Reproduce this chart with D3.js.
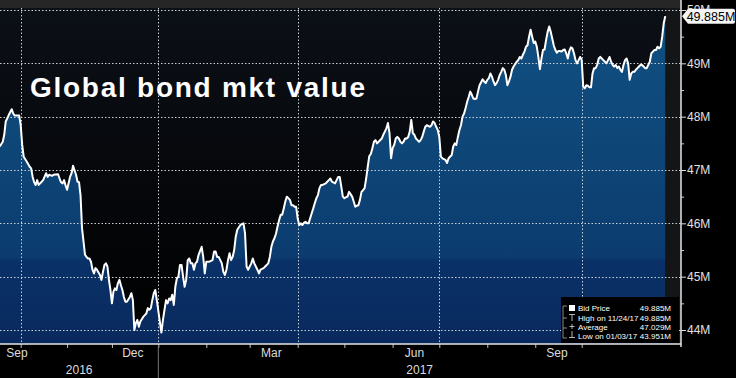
<!DOCTYPE html>
<html>
<head>
<meta charset="utf-8">
<script src="https://d3js.org/d3.v7.min.js"></script>
<style>
body { margin: 0; background: #000; }
svg { display: block; font-family: "Liberation Sans", Arial, sans-serif; }
</style>
</head>
<body>
<script>
// values, in millions
var sep2016 = [
  ["2016-09-17",47.44],["2016-09-19",47.53],["2016-09-20",47.66],["2016-09-21",47.91],["2016-09-23",48.03],
  ["2016-09-25",48.14],["2016-09-26",48.06],["2016-09-27",48.02],["2016-09-30",48.02]
];
var q4_2016 = [
  ["2016-10-01",47.84],["2016-10-02",47.47],["2016-10-03",47.25],["2016-10-05",47.16],["2016-10-07",47.06],
  ["2016-10-08",47.03],["2016-10-09",46.87],["2016-10-10",46.77],["2016-10-11",46.72],["2016-10-12",46.81],
  ["2016-10-13",46.72],["2016-10-15",46.78],["2016-10-16",46.81],["2016-10-18",46.94],["2016-10-19",46.87],
  ["2016-10-20",46.91],["2016-10-22",46.89],["2016-10-23",46.91],["2016-10-26",46.92],["2016-10-27",46.84],
  ["2016-10-28",46.77],["2016-10-29",46.75],["2016-10-30",46.81],["2016-10-31",46.71],["2016-11-01",46.63],
  ["2016-11-03",46.87],["2016-11-04",46.94],["2016-11-05",47.08],["2016-11-07",46.91],["2016-11-08",46.78],
  ["2016-11-09",46.77],["2016-11-10",46.53],["2016-11-11",45.91],["2016-11-13",45.41],["2016-11-14",45.37],
  ["2016-11-15",45.34],["2016-11-16",45.34],["2016-11-17",45.28],["2016-11-18",45.13],["2016-11-19",45.06],
  ["2016-11-20",45.16],["2016-11-21",45.13],["2016-11-23",45.03],["2016-11-24",44.94],["2016-11-25",45.09],
  ["2016-11-26",45.22],["2016-11-27",45.25],["2016-11-28",45.19],["2016-11-29",44.94],["2016-11-30",44.75],
  ["2016-12-01",44.50],["2016-12-02",44.72],["2016-12-03",44.78],["2016-12-04",44.75],["2016-12-05",44.88],
  ["2016-12-06",44.94],["2016-12-07",44.84],["2016-12-08",44.75],["2016-12-09",44.62],["2016-12-10",44.53],
  ["2016-12-11",44.53],["2016-12-13",44.62],["2016-12-14",44.69],["2016-12-15",44.56],["2016-12-16",44.00],
  ["2016-12-17",44.13],["2016-12-18",44.19],["2016-12-19",44.06],["2016-12-20",44.16],["2016-12-22",44.25],
  ["2016-12-23",44.28],["2016-12-24",44.31],["2016-12-25",44.41],["2016-12-26",44.38],["2016-12-27",44.41],
  ["2016-12-28",44.56],["2016-12-29",44.69],["2016-12-30",44.75],["2016-12-31",44.56]
];
var q1_2017 = [
  ["2017-01-03",43.951],["2017-01-04",44.19],["2017-01-05",44.38],["2017-01-06",44.56],["2017-01-07",44.50],
  ["2017-01-08",44.59],["2017-01-09",44.56],["2017-01-10",44.66],["2017-01-11",44.47],["2017-01-12",44.81],
  ["2017-01-13",44.97],["2017-01-14",45.00],["2017-01-15",45.22],["2017-01-16",45.22],["2017-01-17",45.00],
  ["2017-01-18",44.81],["2017-01-19",44.94],["2017-01-20",45.31],["2017-01-21",45.34],["2017-01-22",45.25],
  ["2017-01-23",45.25],["2017-01-24",45.13],["2017-01-25",45.25],["2017-01-26",45.28],["2017-01-27",45.41],
  ["2017-01-29",45.56],["2017-01-30",45.37],["2017-01-31",45.06],["2017-02-01",45.28],["2017-02-02",45.28],
  ["2017-02-03",45.28],["2017-02-05",45.31],["2017-02-06",45.47],["2017-02-07",45.47],["2017-02-08",45.37],
  ["2017-02-09",45.37],["2017-02-10",45.31],["2017-02-11",45.25],["2017-02-12",45.09],["2017-02-13",45.03],
  ["2017-02-14",45.13],["2017-02-15",45.31],["2017-02-16",45.44],["2017-02-17",45.31],["2017-02-18",45.37],
  ["2017-02-19",45.50],["2017-02-20",45.75],["2017-02-21",45.88],["2017-02-23",45.97],["2017-02-25",46.00],
  ["2017-02-26",45.81],["2017-02-27",45.19],["2017-02-28",45.13],["2017-03-02",45.25],["2017-03-03",45.34],
  ["2017-03-04",45.25],["2017-03-06",45.13],["2017-03-07",45.06],["2017-03-08",45.13],["2017-03-10",45.16],
  ["2017-03-11",45.19],["2017-03-13",45.25],["2017-03-14",45.37],["2017-03-15",45.56],["2017-03-16",45.66],
  ["2017-03-17",45.72],["2017-03-18",45.81],["2017-03-19",45.94],["2017-03-20",46.06],["2017-03-21",46.16],
  ["2017-03-22",46.16],["2017-03-23",46.28],["2017-03-24",46.41],["2017-03-25",46.50],["2017-03-27",46.44],
  ["2017-03-28",46.34],["2017-03-29",46.34],["2017-03-30",46.31],["2017-03-31",46.31]
];
var q2_2017 = [
  ["2017-04-01",46.09],["2017-04-02",45.97],["2017-04-03",46.00],["2017-04-04",45.97],["2017-04-05",46.01],
  ["2017-04-06",46.03],["2017-04-07",46.00],["2017-04-08",46.00],["2017-04-10",46.19],["2017-04-11",46.28],
  ["2017-04-12",46.38],["2017-04-13",46.47],["2017-04-14",46.53],["2017-04-15",46.66],["2017-04-16",46.72],
  ["2017-04-17",46.72],["2017-04-19",46.75],["2017-04-20",46.78],["2017-04-21",46.81],["2017-04-22",46.84],
  ["2017-04-23",46.78],["2017-04-25",46.75],["2017-04-26",46.81],["2017-04-27",46.87],["2017-04-28",46.87],
  ["2017-04-29",46.69],["2017-04-30",46.50],["2017-05-01",46.47],["2017-05-02",46.49],["2017-05-03",46.50],
  ["2017-05-04",46.59],["2017-05-06",46.50],["2017-05-07",46.41],["2017-05-08",46.31],["2017-05-09",46.33],
  ["2017-05-10",46.34],["2017-05-11",46.44],["2017-05-12",46.59],["2017-05-13",46.62],["2017-05-14",46.66],
  ["2017-05-15",46.84],["2017-05-16",47.06],["2017-05-17",47.26],["2017-05-18",47.30],["2017-05-19",47.41],
  ["2017-05-20",47.53],["2017-05-21",47.56],["2017-05-22",47.50],["2017-05-23",47.53],["2017-05-25",47.59],
  ["2017-05-26",47.66],["2017-05-27",47.72],["2017-05-28",47.78],["2017-05-29",47.88],["2017-05-30",47.69],
  ["2017-05-31",47.22],["2017-06-01",47.41],["2017-06-02",47.47],["2017-06-03",47.59],["2017-06-04",47.62],
  ["2017-06-05",47.59],["2017-06-06",47.53],["2017-06-07",47.50],["2017-06-08",47.53],["2017-06-09",47.59],
  ["2017-06-10",47.59],["2017-06-11",47.62],["2017-06-12",47.72],["2017-06-13",47.94],["2017-06-14",47.69],
  ["2017-06-15",47.66],["2017-06-16",47.59],["2017-06-17",47.56],["2017-06-18",47.53],["2017-06-19",47.56],
  ["2017-06-20",47.62],["2017-06-21",47.72],["2017-06-22",47.81],["2017-06-23",47.84],["2017-06-25",47.81],
  ["2017-06-26",47.84],["2017-06-27",47.91],["2017-06-28",47.88],["2017-06-29",47.81],["2017-06-30",47.75]
];
var q3_2017 = [
  ["2017-07-01",47.62],["2017-07-02",47.25],["2017-07-03",47.22],["2017-07-05",47.19],["2017-07-06",47.13],
  ["2017-07-07",47.22],["2017-07-09",47.28],["2017-07-10",47.44],["2017-07-11",47.50],["2017-07-12",47.47],
  ["2017-07-13",47.62],["2017-07-14",47.75],["2017-07-15",47.84],["2017-07-16",48.00],["2017-07-17",48.06],
  ["2017-07-18",48.16],["2017-07-19",48.28],["2017-07-20",48.37],["2017-07-21",48.47],["2017-07-22",48.41],
  ["2017-07-23",48.34],["2017-07-24",48.33],["2017-07-25",48.34],["2017-07-26",48.47],["2017-07-27",48.59],
  ["2017-07-29",48.70],["2017-07-30",48.66],["2017-07-31",48.63],["2017-08-01",48.69],["2017-08-02",48.72],
  ["2017-08-03",48.81],["2017-08-04",48.75],["2017-08-05",48.66],["2017-08-06",48.59],["2017-08-07",48.63],
  ["2017-08-08",48.69],["2017-08-09",48.78],["2017-08-10",48.84],["2017-08-11",48.91],["2017-08-12",48.88],
  ["2017-08-13",48.78],["2017-08-14",48.59],["2017-08-15",48.66],["2017-08-16",48.75],["2017-08-17",48.88],
  ["2017-08-18",48.94],["2017-08-20",49.03],["2017-08-21",49.06],["2017-08-22",49.12],["2017-08-23",49.09],
  ["2017-08-24",49.16],["2017-08-25",49.22],["2017-08-26",49.31],["2017-08-27",49.34],["2017-08-28",49.50],
  ["2017-08-29",49.63],["2017-08-30",49.50],["2017-08-31",49.38],["2017-09-01",49.41],["2017-09-02",49.31],
  ["2017-09-03",49.12],["2017-09-04",48.89],["2017-09-05",49.09],["2017-09-06",49.25],["2017-09-07",49.26],
  ["2017-09-08",49.44],["2017-09-09",49.59],["2017-09-10",49.69],["2017-09-11",49.59],["2017-09-12",49.46],
  ["2017-09-13",49.33],["2017-09-14",49.25],["2017-09-15",49.20],["2017-09-16",49.23],["2017-09-17",49.23],
  ["2017-09-18",49.22],["2017-09-19",49.25],["2017-09-20",49.26],["2017-09-21",49.19],["2017-09-22",49.09],
  ["2017-09-23",49.23],["2017-09-24",49.30],["2017-09-25",49.28],["2017-09-26",49.19],["2017-09-27",49.06],
  ["2017-09-28",49.00],["2017-09-29",49.06],["2017-09-30",49.12]
];
var q4_2017 = [
  ["2017-10-01",49.06],["2017-10-02",48.56],["2017-10-03",48.53],["2017-10-04",48.59],["2017-10-05",48.58],
  ["2017-10-06",48.55],["2017-10-07",48.55],["2017-10-08",48.81],["2017-10-09",48.91],["2017-10-10",48.91],
  ["2017-10-11",48.97],["2017-10-12",49.09],["2017-10-13",49.12],["2017-10-15",49.06],["2017-10-16",49.03],
  ["2017-10-17",49.00],["2017-10-18",49.06],["2017-10-19",49.12],["2017-10-20",49.03],["2017-10-21",48.97],
  ["2017-10-22",48.94],["2017-10-23",48.97],["2017-10-24",48.91],["2017-10-25",48.94],["2017-10-26",48.88],
  ["2017-10-27",48.84],["2017-10-28",48.97],["2017-10-29",49.06],["2017-10-30",49.09],["2017-10-31",49.00],
  ["2017-11-01",48.69],["2017-11-02",48.81],["2017-11-03",48.84],["2017-11-04",48.84],["2017-11-05",48.88],
  ["2017-11-06",48.91],["2017-11-07",48.94],["2017-11-08",48.97],["2017-11-09",48.97],["2017-11-10",48.94],
  ["2017-11-11",48.91],["2017-11-12",48.91],["2017-11-14",49.03],["2017-11-15",49.19],["2017-11-16",49.22],
  ["2017-11-17",49.25],["2017-11-18",49.25],["2017-11-19",49.31],["2017-11-20",49.28],["2017-11-21",49.31],
  ["2017-11-22",49.50],["2017-11-23",49.75],["2017-11-24",49.885]
];

var yTicks = [44, 45, 46, 47, 48, 49, 50];
var monthLabels = ["Sep", "Dec", "Mar", "Jun", "Sep"];
var monthMids = ["2016-09-15", "2016-12-15", "2017-03-15", "2017-06-15", "2017-09-15"];
var yearLabels = ["2016", "2017"];
var quarterStarts = ["2016-10-01", "2017-01-01", "2017-04-01", "2017-07-01", "2017-10-01"];
var legendLabels = ["Bid Price", "High on 11/24/17", "Average", "Low on 01/03/17"];
var legendValues = ["49.885M", "49.885M", "47.029M", "43.951M"];
var title = "Global bond mkt value";

var width = 736, height = 378,
    plotRight = 681, plotBottom = 344;

var parse = d3.timeParse("%Y-%m-%d");
var data = [].concat(sep2016, q4_2016, q1_2017, q2_2017, q3_2017, q4_2017).map(function(d) {
  return {date: parse(d[0]), value: d[1]};
});
var quarters = quarterStarts.map(parse);

// bloomberg spaces quarters slightly unevenly, so map each quarter boundary
var x = d3.scaleTime()
  .domain(quarters)
  .range([20.7, 158.3, 297.7, 439.3, 581.7]);
var y = d3.scaleLinear().domain([44, 50]).range([330, 10]);

var svg = d3.select("body").append("svg")
  .attr("width", width)
  .attr("height", height);

var defs = svg.append("defs");
var bg = defs.append("linearGradient").attr("id", "bg")
  .attr("x1", 0).attr("y1", 0).attr("x2", 0).attr("y2", 1);
bg.append("stop").attr("offset", 0).attr("stop-color", "#0c1017");
bg.append("stop").attr("offset", 1).attr("stop-color", "#000");

var fill = defs.append("linearGradient").attr("id", "areaFill")
  .attr("gradientUnits", "userSpaceOnUse")
  .attr("x1", 0).attr("y1", 0).attr("x2", 0).attr("y2", plotBottom);
[[0, "#115183"], [0.45, "#0e4577"], [0.75, "#0c3c6f"], [0.755, "#0a3268"], [1, "#09295e"]].forEach(function(s) {
  fill.append("stop").attr("offset", s[0]).attr("stop-color", s[1]);
});

defs.append("clipPath").attr("id", "plotClip")
  .append("rect").attr("width", plotRight).attr("height", plotBottom);

svg.append("rect")
  .attr("width", plotRight).attr("height", plotBottom)
  .attr("fill", "url(#bg)");

svg.append("rect")
  .attr("width", plotRight).attr("height", 8)
  .attr("fill", "#262626");

var last = data[data.length - 1];
svg.append("rect")
  .attr("x", x(last.date)).attr("y", 8)
  .attr("width", plotRight - x(last.date)).attr("height", plotBottom - 8)
  .attr("fill", "#141517");

var plot = svg.append("g").attr("clip-path", "url(#plotClip)");

var area = d3.area()
  .x(function(d) { return x(d.date); })
  .y0(plotBottom)
  .y1(function(d) { return y(d.value); });

var line = d3.line()
  .x(function(d) { return x(d.date); })
  .y(function(d) { return y(d.value); });

plot.append("path")
  .datum(data)
  .attr("d", area)
  .attr("fill", "url(#areaFill)");

// dotted grid
plot.selectAll(".hgrid")
  .data(yTicks)
  .enter().append("line")
  .attr("class", "hgrid")
  .attr("x1", 0).attr("x2", plotRight)
  .attr("y1", function(d) { return Math.round(y(d)) + 0.5; })
  .attr("y2", function(d) { return Math.round(y(d)) + 0.5; })
  .attr("stroke", "#c8d0d8").attr("stroke-width", 1)
  .attr("stroke-dasharray", "1.5,2");

plot.selectAll(".vgrid")
  .data(quarters)
  .enter().append("line")
  .attr("class", "vgrid")
  .attr("x1", function(d) { return Math.round(x(d)) + 0.5; })
  .attr("x2", function(d) { return Math.round(x(d)) + 0.5; })
  .attr("y1", 8).attr("y2", plotBottom)
  .attr("stroke", "#c8d0d8").attr("stroke-width", 1)
  .attr("stroke-dasharray", "1.5,2");

plot.append("path")
  .datum(data)
  .attr("d", line)
  .attr("fill", "none")
  .attr("stroke", "#fff")
  .attr("stroke-width", 2)
  .attr("stroke-linejoin", "round");

// right axis
var yAxis = svg.append("g")
  .attr("transform", "translate(" + plotRight + ",0)")
  .call(d3.axisRight(y).tickValues(yTicks).tickSize(5).tickPadding(1)
    .tickFormat(function(d) { return d + "M"; }));
svg.append("g")
  .attr("transform", "translate(" + plotRight + ",0)")
  .call(d3.axisRight(y).tickValues(d3.range(44.5, 50, 1)).tickSize(3).tickFormat(""))
  .call(function(g) { g.select(".domain").remove(); g.selectAll("line").attr("stroke", "#ccc"); });
yAxis.select(".domain").remove();
yAxis.selectAll("line").attr("stroke", "#ddd");
yAxis.selectAll("text")
  .attr("fill", "#e2e2e2")
  .style("font-size", "12px")
  .style("font-family", "'Liberation Sans', Arial, sans-serif");

svg.append("line")
  .attr("x1", plotRight).attr("x2", plotRight)
  .attr("y1", 0).attr("y2", plotBottom + 3)
  .attr("stroke", "#e6e6e6").attr("stroke-width", 1.5);

// bottom axis
var xAxis = svg.append("g")
  .attr("transform", "translate(0," + plotBottom + ")")
  .call(d3.axisBottom(x).ticks(d3.timeMonth.every(1)).tickSize(4).tickFormat(""));
xAxis.select(".domain").remove();
xAxis.selectAll("line").attr("stroke", "#bbb");

svg.append("line")
  .attr("x1", 0).attr("x2", plotRight)
  .attr("y1", plotBottom).attr("y2", plotBottom)
  .attr("stroke", "#e6e6e6").attr("stroke-width", 1.5);

svg.selectAll(".month")
  .data(monthLabels)
  .enter().append("text")
  .attr("class", "month")
  .attr("x", function(d, i) { return Math.max(x(parse(monthMids[i])), 17); })
  .attr("y", 357)
  .attr("text-anchor", "middle")
  .attr("fill", "#dcdcdc")
  .style("font-size", "12px")
  .text(function(d) { return d; });

var janFirst = x(parse("2017-01-01"));
svg.selectAll(".year")
  .data(yearLabels)
  .enter().append("text")
  .attr("class", "year")
  .attr("x", function(d, i) { return i == 0 ? janFirst / 2 : (janFirst + plotRight) / 2; })
  .attr("y", 374)
  .attr("text-anchor", "middle")
  .attr("fill", "#dcdcdc")
  .style("font-size", "12px")
  .text(function(d) { return d; });

svg.append("line")
  .attr("x1", janFirst).attr("x2", janFirst)
  .attr("y1", 347).attr("y2", 378)
  .attr("stroke", "#777");

// title
svg.append("text")
  .attr("x", 30).attr("y", 97)
  .attr("fill", "#fff")
  .attr("font-weight", "bold")
  .attr("textLength", 335)
  .attr("lengthAdjust", "spacing")
  .style("font-size", "28px")
  .text(title);

// last value tag
var ly = y(last.value);
svg.append("path")
  .attr("d", "M" + (plotRight + 1) + "," + ly + "L" + (plotRight + 7) + "," + (ly - 7.5) +
    "H733a2,2 0 0 1 2,2V" + (ly + 5.5) + "a2,2 0 0 1 -2,2H" + (plotRight + 7) + "Z")
  .attr("fill", "#f4f4f4");
svg.append("text")
  .attr("x", 711).attr("y", ly + 4.5)
  .attr("text-anchor", "middle")
  .attr("fill", "#000")
  .style("font-size", "12.5px")
  .text(legendValues[0]);

// legend box
var legend = svg.append("g").attr("transform", "translate(561,297)");
legend.append("rect").attr("width", 118).attr("height", 46).attr("fill", "#000");
var rowY = [14, 23.5, 33, 42];
legend.append("path")
  .attr("d", "M2,9V41M2,9H6M2,21H6M2,31H6M2,41H6")
  .attr("stroke", "#aaa").attr("fill", "none").attr("stroke-width", 0.8);
legend.append("rect").attr("x", 8).attr("y", 8).attr("width", 6).attr("height", 6).attr("fill", "#fff");
legend.append("path")
  .attr("d", "M8,17.5H14M11,17.5V24M8.5,29.5H13.5M11,27V32M11,34V40.5M8,40.5H14")
  .attr("stroke", "#ddd").attr("fill", "none").attr("stroke-width", 0.8);
legend.selectAll(".lab")
  .data(legendLabels)
  .enter().append("text")
  .attr("x", 17)
  .attr("y", function(d, i) { return rowY[i]; })
  .attr("fill", "#fff")
  .style("font-size", "8px")
  .text(function(d) { return d; });
legend.selectAll(".val")
  .data(legendValues)
  .enter().append("text")
  .attr("x", 110)
  .attr("y", function(d, i) { return rowY[i]; })
  .attr("text-anchor", "end")
  .attr("fill", "#fff")
  .style("font-size", "8px")
  .text(function(d) { return d; });
</script>
</body>
</html>
